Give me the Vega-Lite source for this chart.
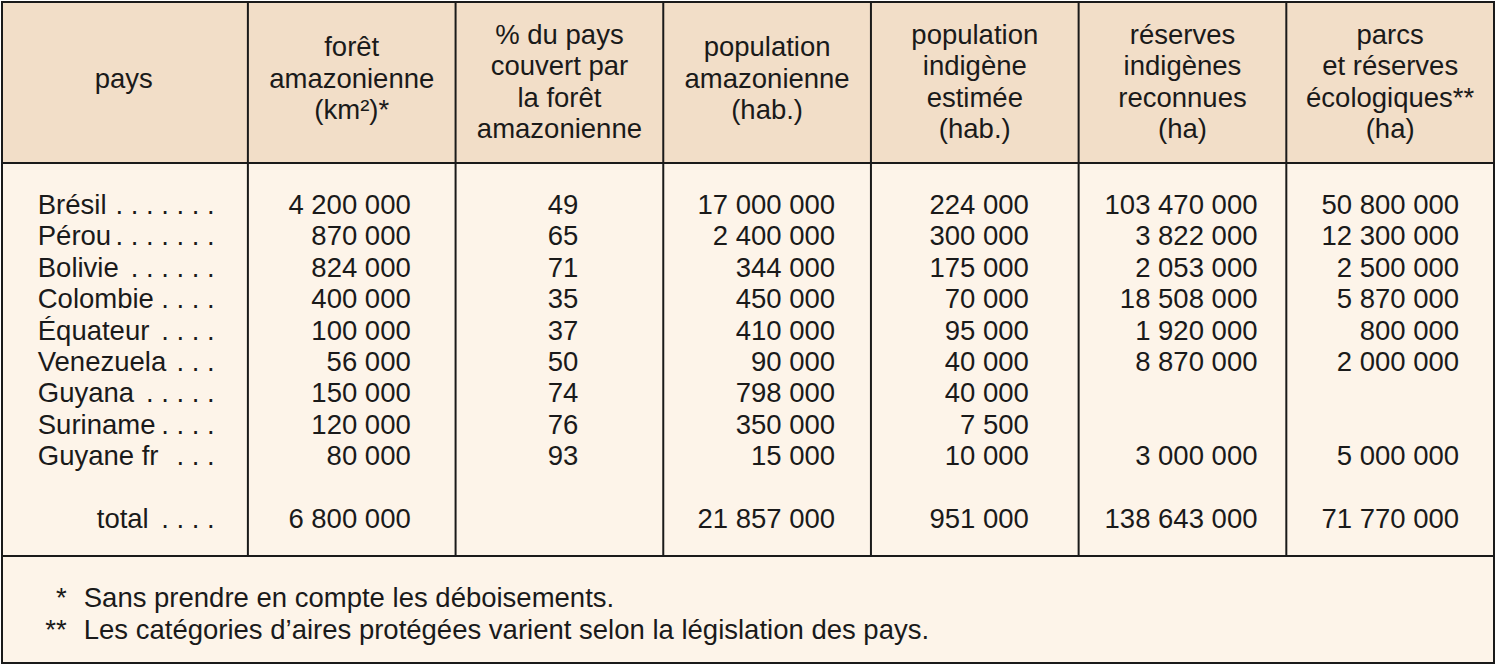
{
  "$schema": "https://vega.github.io/schema/vega-lite/v6.json",
  "width": 1492,
  "height": 661,
  "autosize": {"type": "none"},
  "padding": {"left": 2, "top": 2, "right": 5, "bottom": 3},
  "background": "#ffffff",
  "config": {
    "view": {"stroke": null, "fill": "#fdf4e9"},
    "text": {"font": "Liberation Sans", "fontSize": 27.5, "color": "#1a1a1a", "baseline": "middle"},
    "rule": {"stroke": "#1a1a1a", "strokeWidth": 2},
    "locale": {"number": {"decimal": ",", "thousands": " ", "grouping": [3], "currency": ["", " €"]}}
  },
  "data": {"values": [{}]},
  "datasets": {
    "cols": [
      {"col": "c2", "lines": 3, "label": "forêt\namazonienne\n(km²)*"},
      {"col": "c3", "lines": 4, "label": "% du pays\ncouvert par\nla forêt\namazonienne"},
      {"col": "c4", "lines": 3, "label": "population\namazonienne\n(hab.)"},
      {"col": "c5", "lines": 4, "label": "population\nindigène\nestimée\n(hab.)"},
      {"col": "c6", "lines": 4, "label": "réserves\nindigènes\nreconnues\n(ha)"},
      {"col": "c7", "lines": 4, "label": "parcs\net réserves\nécologiques**\n(ha)"}
    ],
    "rows": [
      {"row": 1, "pays": "Brésil", "dots": ". . . . . . .", "foret": 4200000, "pct": 49, "pop": 17000000, "indig": 224000, "resind": 103470000, "parcs": 50800000},
      {"row": 2, "pays": "Pérou", "dots": ". . . . . . .", "foret": 870000, "pct": 65, "pop": 2400000, "indig": 300000, "resind": 3822000, "parcs": 12300000},
      {"row": 3, "pays": "Bolivie", "dots": ". . . . . .", "foret": 824000, "pct": 71, "pop": 344000, "indig": 175000, "resind": 2053000, "parcs": 2500000},
      {"row": 4, "pays": "Colombie", "dots": ". . . .", "foret": 400000, "pct": 35, "pop": 450000, "indig": 70000, "resind": 18508000, "parcs": 5870000},
      {"row": 5, "pays": "Équateur", "dots": ". . . .", "foret": 100000, "pct": 37, "pop": 410000, "indig": 95000, "resind": 1920000, "parcs": 800000},
      {"row": 6, "pays": "Venezuela", "dots": ". . .", "foret": 56000, "pct": 50, "pop": 90000, "indig": 40000, "resind": 8870000, "parcs": 2000000},
      {"row": 7, "pays": "Guyana", "dots": ". . . . .", "foret": 150000, "pct": 74, "pop": 798000, "indig": 40000, "resind": null, "parcs": null},
      {"row": 8, "pays": "Suriname", "dots": ". . . .", "foret": 120000, "pct": 76, "pop": 350000, "indig": 7500, "resind": null, "parcs": null},
      {"row": 9, "pays": "Guyane fr", "dots": ". . .", "foret": 80000, "pct": 93, "pop": 15000, "indig": 10000, "resind": 3000000, "parcs": 5000000},
      {"row": 11, "pays": "total", "dots": ". . . .", "foret": 6800000, "pct": null, "pop": 21857000, "indig": 951000, "resind": 138643000, "parcs": 71770000}
    ],
    "notes": [
      {"row": 13.5, "sym": "*", "note": "Sans prendre en compte les déboisements."},
      {"row": 14.55, "sym": "**", "note": "Les catégories d’aires protégées varient selon la législation des pays."}
    ]
  },
  "layer": [
    {
      "mark": {"type": "rect", "fill": "#f2dec8"},
      "encoding": {
        "y": {"datum": -5.497, "type": "quantitative", "scale": {"domain": [-5.497, 15.554], "reverse": true, "nice": false, "zero": false}, "axis": null},
        "y2": {"datum": -0.37}
      }
    },
    {
      "data": {"name": "cols"},
      "mark": {"type": "rule"},
      "encoding": {
        "x": {"field": "col", "type": "nominal", "bandPosition": 0, "scale": {"type": "band", "domain": ["c2", "c3", "c4", "c5", "c6", "c7"], "paddingInner": 0, "paddingOuter": 0.592, "align": 1}, "axis": null},
        "y": {"datum": -5.497, "type": "quantitative"},
        "y2": {"datum": 12.15}
      }
    },
    {
      "mark": {"type": "rule"},
      "encoding": {"y": {"datum": -0.37, "type": "quantitative"}}
    },
    {
      "mark": {"type": "rule"},
      "encoding": {"y": {"datum": 12.15, "type": "quantitative"}}
    },
    {
      "mark": {"type": "rect", "fillOpacity": 0, "stroke": "#1a1a1a", "strokeWidth": 2},
      "encoding": {
        "y": {"datum": -5.497, "type": "quantitative"},
        "y2": {"datum": 15.554}
      }
    },
    {
      "data": {"name": "cols"},
      "transform": [{"filter": "datum.lines === 3"}],
      "mark": {"type": "text", "align": "center", "lineBreak": "\n", "lineHeight": 31.7},
      "encoding": {
        "x": {"field": "col", "type": "nominal"},
        "y": {"datum": -4.03, "type": "quantitative"},
        "text": {"field": "label"}
      }
    },
    {
      "data": {"name": "cols"},
      "transform": [{"filter": "datum.lines === 4"}],
      "mark": {"type": "text", "align": "center", "lineBreak": "\n", "lineHeight": 31.5},
      "encoding": {
        "x": {"field": "col", "type": "nominal"},
        "y": {"datum": -4.42, "type": "quantitative"},
        "text": {"field": "label"}
      }
    },
    {
      "mark": {"type": "text", "align": "center", "dx": -228},
      "encoding": {
        "x": {"datum": "c2", "type": "nominal"},
        "y": {"datum": -3.0, "type": "quantitative"},
        "text": {"value": "pays"}
      }
    },
    {
      "data": {"name": "rows"},
      "transform": [{"filter": "datum.pays !== 'total'"}],
      "mark": {"type": "text", "align": "left", "dx": -314},
      "encoding": {
        "x": {"datum": "c2", "type": "nominal"},
        "y": {"field": "row", "type": "quantitative"},
        "text": {"field": "pays"}
      }
    },
    {
      "data": {"name": "rows"},
      "transform": [{"filter": "datum.pays === 'total'"}],
      "mark": {"type": "text", "align": "left", "dx": -255},
      "encoding": {
        "x": {"datum": "c2", "type": "nominal"},
        "y": {"field": "row", "type": "quantitative"},
        "text": {"field": "pays"}
      }
    },
    {
      "data": {"name": "rows"},
      "mark": {"type": "text", "align": "right", "dx": -137},
      "encoding": {
        "x": {"datum": "c2", "type": "nominal"},
        "y": {"field": "row", "type": "quantitative"},
        "text": {"field": "dots"}
      }
    },
    {
      "data": {"name": "rows"},
      "mark": {"type": "text", "align": "right", "dx": 59},
      "encoding": {
        "x": {"datum": "c2", "type": "nominal"},
        "y": {"field": "row", "type": "quantitative"},
        "text": {"field": "foret", "type": "quantitative", "format": ","}
      }
    },
    {
      "data": {"name": "rows"},
      "transform": [{"filter": "isValid(datum.pct)"}],
      "mark": {"type": "text", "align": "right", "dx": 19},
      "encoding": {
        "x": {"datum": "c3", "type": "nominal"},
        "y": {"field": "row", "type": "quantitative"},
        "text": {"field": "pct", "type": "quantitative", "format": ","}
      }
    },
    {
      "data": {"name": "rows"},
      "mark": {"type": "text", "align": "right", "dx": 68},
      "encoding": {
        "x": {"datum": "c4", "type": "nominal"},
        "y": {"field": "row", "type": "quantitative"},
        "text": {"field": "pop", "type": "quantitative", "format": ","}
      }
    },
    {
      "data": {"name": "rows"},
      "mark": {"type": "text", "align": "right", "dx": 54},
      "encoding": {
        "x": {"datum": "c5", "type": "nominal"},
        "y": {"field": "row", "type": "quantitative"},
        "text": {"field": "indig", "type": "quantitative", "format": ","}
      }
    },
    {
      "data": {"name": "rows"},
      "transform": [{"filter": "isValid(datum.resind)"}],
      "mark": {"type": "text", "align": "right", "dx": 75},
      "encoding": {
        "x": {"datum": "c6", "type": "nominal"},
        "y": {"field": "row", "type": "quantitative"},
        "text": {"field": "resind", "type": "quantitative", "format": ","}
      }
    },
    {
      "data": {"name": "rows"},
      "transform": [{"filter": "isValid(datum.parcs)"}],
      "mark": {"type": "text", "align": "right", "dx": 69},
      "encoding": {
        "x": {"datum": "c7", "type": "nominal"},
        "y": {"field": "row", "type": "quantitative"},
        "text": {"field": "parcs", "type": "quantitative", "format": ","}
      }
    },
    {
      "data": {"name": "notes"},
      "mark": {"type": "text", "align": "right", "dx": -285},
      "encoding": {
        "x": {"datum": "c2", "type": "nominal"},
        "y": {"field": "row", "type": "quantitative"},
        "text": {"field": "sym"}
      }
    },
    {
      "data": {"name": "notes"},
      "mark": {"type": "text", "align": "left", "dx": -268},
      "encoding": {
        "x": {"datum": "c2", "type": "nominal"},
        "y": {"field": "row", "type": "quantitative"},
        "text": {"field": "note"}
      }
    }
  ]
}
